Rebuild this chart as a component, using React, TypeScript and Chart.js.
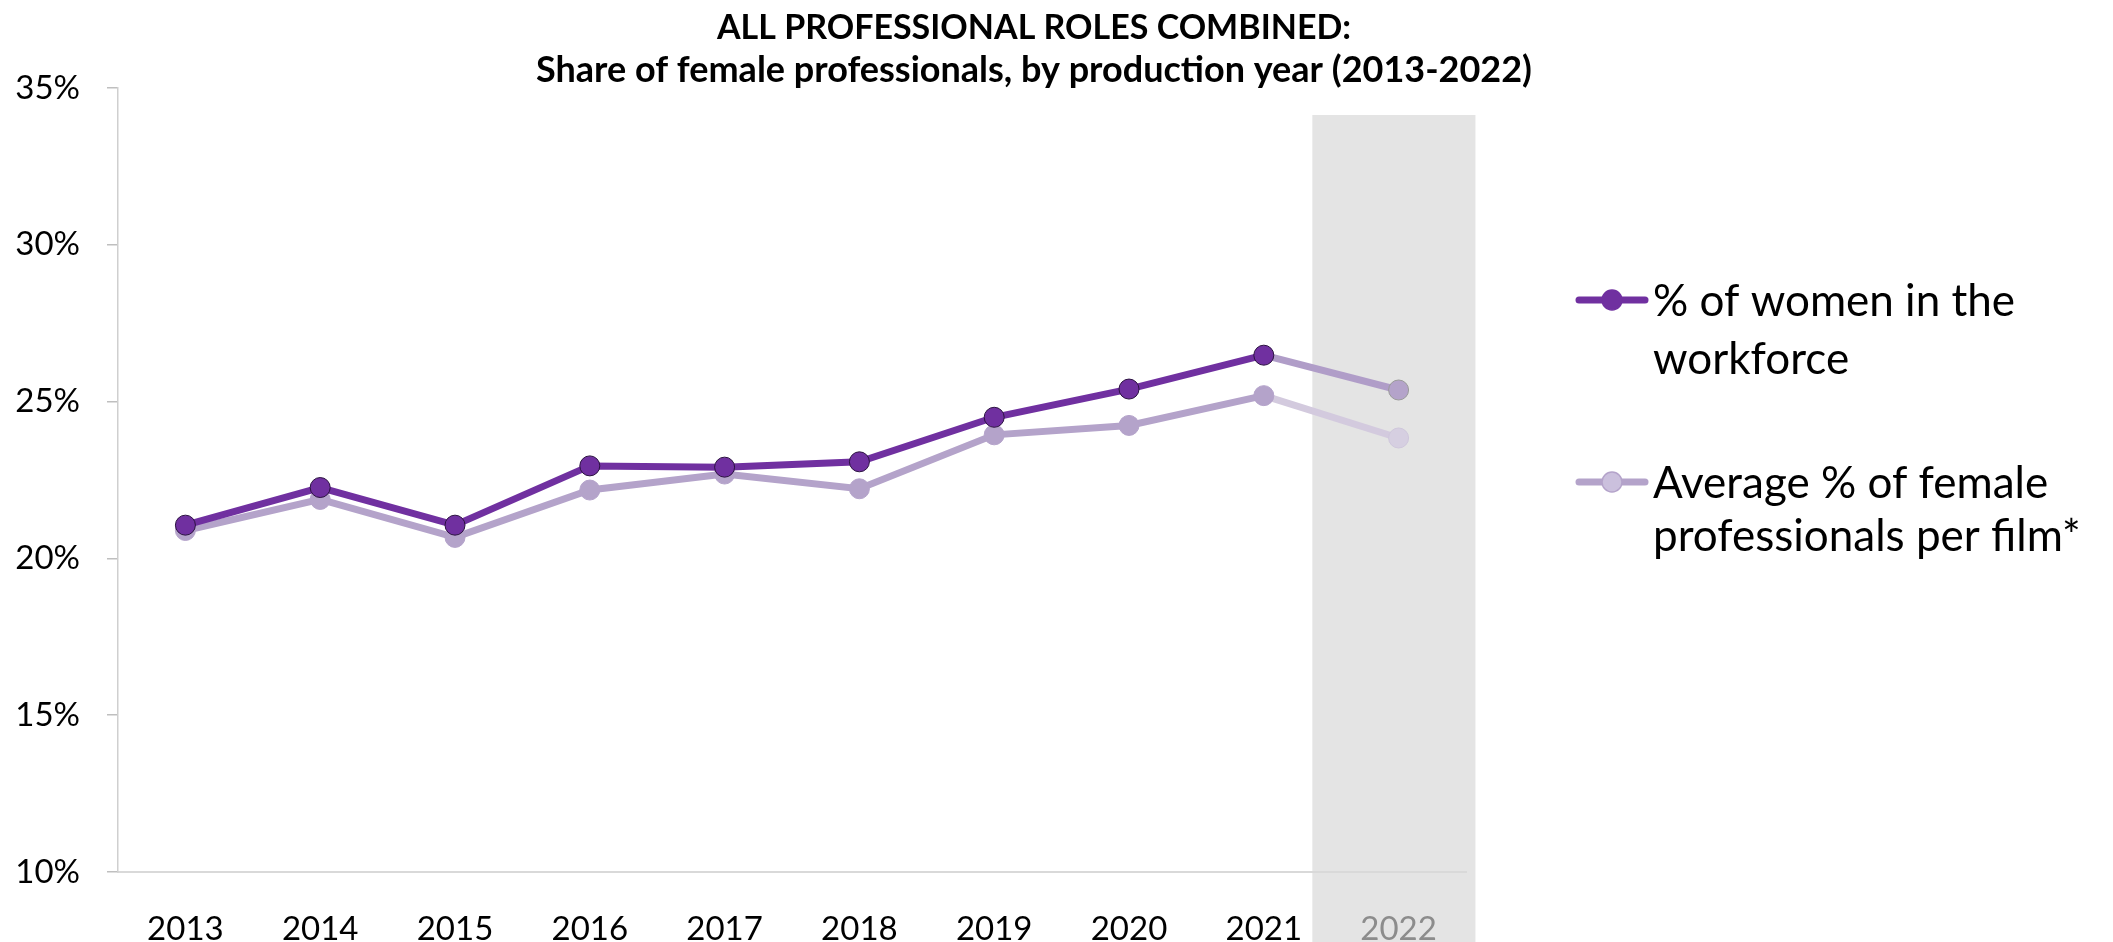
import React, { useEffect, useRef } from "react";
import { Chart, registerables } from "chart.js";

Chart.register(...registerables);

// ---- data ----
const years = ["2013", "2014", "2015", "2016", "2017", "2018", "2019", "2020", "2021", "2022"];
const womenWorkforce = [21.06, 22.26, 21.06, 22.95, 22.91, 23.08, 24.5, 25.4, 26.48, 25.37];
const avgPerFilm = [20.89, 21.88, 20.67, 22.18, 22.69, 22.22, 23.94, 24.24, 25.19, 23.84];
const yMin = 10;
const yMax = 35;
const yStep = 5;
const titleLines = [
  "ALL PROFESSIONAL ROLES COMBINED:",
  "Share of female professionals, by production year (2013-2022)",
];
const legendLabels = [
  ["% of women in the", "workforce"],
  ["Average % of female", "professionals per film*"],
];
// shaded (provisional) band, in category/value units
const bandFrom = 8.36;
const bandTo = 9.57;
const bandTop = 34.14;

// ---- styles ----
const FONT = "Lato, 'Noto Sans', sans-serif";
const DARK = "#7030a0";
const LIGHT = "#b4a3ca";
const DARK_LAST_SEG = "#b09dc8";
const LIGHT_LAST_SEG = "#d3cade";
const LIGHT_LAST_PT = "#d6cfe1";
const W = 2113;
const H = 942;

const bandPlugin = {
  id: "band",
  beforeDraw(chart: any) {
    const { ctx, scales } = chart;
    const x = scales.x;
    const y = scales.y;
    const x0 = x.getPixelForValue(bandFrom);
    const x1 = x.getPixelForValue(bandTo);
    const y0 = y.getPixelForValue(bandTop);
    ctx.save();
    ctx.fillStyle = "#e4e4e4";
    ctx.fillRect(x0, y0, x1 - x0, chart.height - y0);
    ctx.restore();
  },
};

const titlePlugin = {
  id: "customTitle",
  afterDraw(chart: any) {
    const { ctx } = chart;
    ctx.save();
    ctx.fillStyle = "#000";
    ctx.textAlign = "center";
    ctx.textBaseline = "alphabetic";
    ctx.font = `bold 34px ${FONT}`;
    ctx.fillText(titleLines[0], 1034, 39);
    ctx.font = `bold 36px ${FONT}`;
    ctx.fillText(titleLines[1], 1034, 82);
    ctx.restore();
  },
};

const legendPlugin = {
  id: "customLegend",
  afterDraw(chart: any) {
    const { ctx } = chart;
    const entries = [
      { line: DARK, fill: DARK, border: DARK, y: 300, lines: legendLabels[0], gap: 58 },
      { line: LIGHT, fill: "#cbc0dd", border: LIGHT, y: 482, lines: legendLabels[1], gap: 53 },
    ];
    ctx.save();
    for (const e of entries) {
      ctx.strokeStyle = e.line;
      ctx.lineWidth = 7;
      ctx.lineCap = "round";
      ctx.beginPath();
      ctx.moveTo(1579, e.y);
      ctx.lineTo(1645, e.y);
      ctx.stroke();
      ctx.beginPath();
      ctx.arc(1612, e.y, 10, 0, Math.PI * 2);
      ctx.fillStyle = e.fill;
      ctx.fill();
      ctx.lineWidth = 1.5;
      ctx.strokeStyle = e.border;
      ctx.stroke();
      ctx.fillStyle = "#000";
      ctx.font = `44px ${FONT}`;
      ctx.textAlign = "left";
      ctx.textBaseline = "alphabetic";
      ctx.fillText(e.lines[0], 1653, e.y + 16);
      ctx.fillText(e.lines[1], 1653, e.y + 16 + e.gap);
    }
    ctx.restore();
  },
};

export default function App() {
  const ref = useRef<HTMLCanvasElement | null>(null);

  useEffect(() => {
    if (!ref.current) return;
    const last = years.length - 1;
    const chart = new Chart(ref.current, {
      type: "line",
      data: {
        labels: years,
        datasets: [
          {
            label: legendLabels[0].join(" "),
            data: womenWorkforce,
            borderColor: DARK,
            borderWidth: 7,
            pointRadius: 10,
            pointHoverRadius: 10,
            pointBorderWidth: 1,
            pointBackgroundColor: womenWorkforce.map((_, i) => (i === last ? LIGHT : DARK)),
            pointBorderColor: womenWorkforce.map((_, i) => (i === last ? "#9a9a9a" : "#2b1240")),
            segment: {
              borderColor: (c: any) => (c.p1DataIndex === last ? DARK_LAST_SEG : DARK),
            },
            tension: 0,
          },
          {
            label: legendLabels[1].join(" "),
            data: avgPerFilm,
            borderColor: LIGHT,
            borderWidth: 7,
            pointRadius: 10,
            pointHoverRadius: 10,
            pointBorderWidth: 1,
            pointBackgroundColor: avgPerFilm.map((_, i) => (i === last ? LIGHT_LAST_PT : LIGHT)),
            pointBorderColor: avgPerFilm.map((_, i) => (i === last ? "#cfc7dc" : LIGHT)),
            segment: {
              borderColor: (c: any) => (c.p1DataIndex === last ? LIGHT_LAST_SEG : LIGHT),
            },
            tension: 0,
          },
        ],
      },
      options: {
        responsive: false,
        animation: false,
        devicePixelRatio: 1,
        layout: { padding: { top: 88, right: W - 1466, left: 0, bottom: 0 } },
        plugins: {
          legend: { display: false },
          title: { display: false },
          tooltip: { enabled: false },
        },
        scales: {
          x: {
            type: "category",
            offset: true,
            grid: { display: false },
            border: { display: true, color: "#d9d9d9", width: 2 },
            ticks: {
              padding: 30,
              font: { family: FONT, size: 33 },
              color: (c: any) => (c.index === last ? "#8c8c8c" : "#000"),
              maxRotation: 0,
              autoSkip: false,
            },
            afterFit: (s: any) => {
              s.height = H - 872;
            },
          },
          y: {
            min: yMin,
            max: yMax,
            grid: {
              display: true,
              drawOnChartArea: false,
              drawTicks: true,
              tickLength: 11,
              color: "#bfbfbf",
              lineWidth: 1.5,
            },
            border: { display: true, color: "#cfcfcf", width: 1.5 },
            ticks: {
              stepSize: yStep,
              padding: 27,
              font: { family: FONT, size: 33 },
              color: "#000",
              callback: (v: any) => `${v}%`,
            },
            afterFit: (s: any) => {
              s.width = 118;
            },
          },
        },
      },
      plugins: [bandPlugin, titlePlugin, legendPlugin],
    });
    return () => chart.destroy();
  }, []);

  return (
    <div style={{ position: "fixed", left: 0, top: 0, width: W, height: H, background: "#fff" }}>
      <canvas ref={ref} width={W} height={H} style={{ display: "block", width: W, height: H }} />
    </div>
  );
}
